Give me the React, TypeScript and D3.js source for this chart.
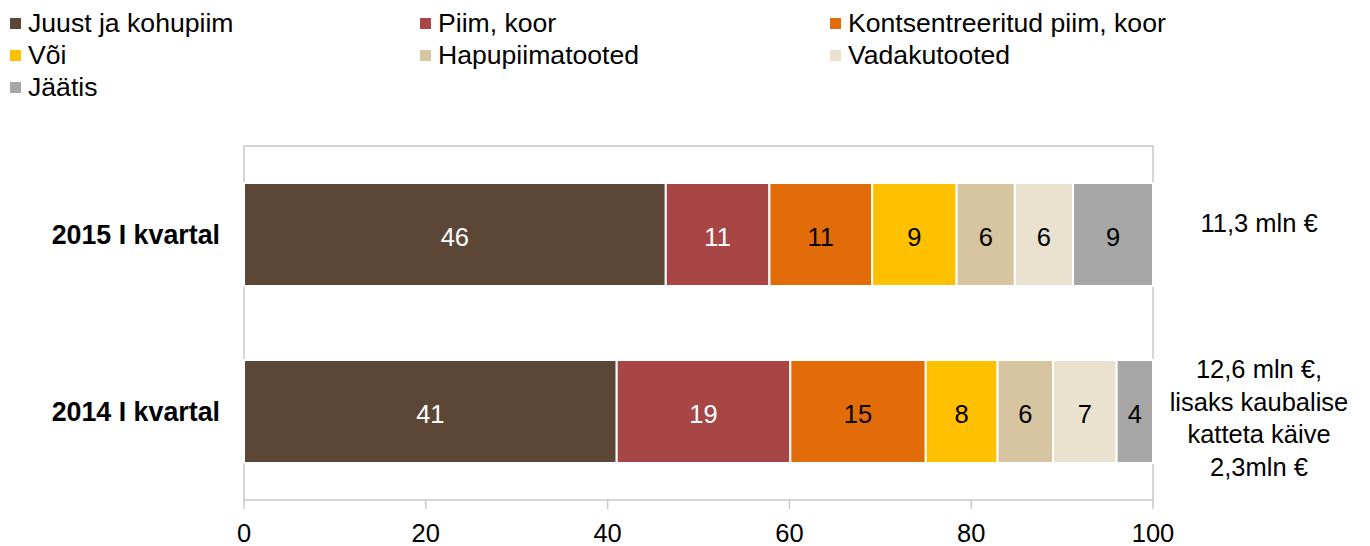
import React from "react";
import * as d3 from "d3";

const categories = ["2015 I kvartal", "2014 I kvartal"];
const seriesNames = [
  "Juust ja kohupiim",
  "Piim, koor",
  "Kontsentreeritud piim, koor",
  "Või",
  "Hapupiimatooted",
  "Vadakutooted",
  "Jäätis",
];
const seriesColors = ["#5C4736", "#A84646", "#E36C0A", "#FFC000", "#D7C4A1", "#EAE1CF", "#A6A6A6"];
const labelColors = ["#FFFFFF", "#FFFFFF", "#000000", "#000000", "#000000", "#000000", "#000000"];
const values2015 = [46.4, 11.4, 11.3, 9.3, 6.4, 6.4, 8.8];
const values2014 = [41.0, 19.1, 14.9, 7.9, 6.1, 7.0, 4.0];
const annotation2015 = ["11,3 mln €"];
const annotation2014 = ["12,6 mln €,", "lisaks kaubalise", "katteta käive", "2,3mln €"];
const xTicks = [0, 20, 40, 60, 80, 100];

const FONT = "'Liberation Sans', Arial, Helvetica, sans-serif";

export default function App() {
  const W = 1370;
  const H = 546;
  const x = d3.scaleLinear().domain([0, 100]).range([244, 1153]);
  const y = d3
    .scaleBand<string>()
    .domain(categories)
    .range([146, 500])
    .paddingInner(0.418)
    .paddingOuter(0.209);

  const rows = [
    { cat: categories[0], vals: values2015, ann: annotation2015 },
    { cat: categories[1], vals: values2014, ann: annotation2014 },
  ];

  const stacked = rows.map((r) => {
    const cum = d3.cumsum(r.vals);
    return r.vals.map((v, i) => ({ x0: cum[i] - v, x1: cum[i], v, i }));
  });

  const legendCols = [10, 420, 830];
  const legendRows = [32, 64, 96];

  return (
    <svg
      width={W}
      height={H}
      style={{ position: "absolute", left: 0, top: 0, background: "#fff" }}
      fontFamily={FONT}
    >
      {/* Legend */}
      {seriesNames.map((name, i) => {
        const col = i % 3;
        const row = Math.floor(i / 3);
        const lx = legendCols[col];
        const ly = legendRows[row];
        return (
          <g key={name}>
            <rect x={lx} y={ly - 14} width={11} height={11} fill={seriesColors[i]} />
            <text x={lx + 18} y={ly} fontSize={26.6} fill="#000">
              {name}
            </text>
          </g>
        );
      })}

      {/* Plot border */}
      <rect
        x={x(0)}
        y={146}
        width={x(100) - x(0)}
        height={500 - 146}
        fill="none"
        stroke="#C8C8C8"
        strokeWidth={1.5}
      />

      {/* Bars */}
      {rows.map((r, ri) => {
        const by = y(r.cat)!;
        const bh = y.bandwidth();
        return (
          <g key={r.cat}>
            {stacked[ri].map((s) => (
              <rect
                key={s.i}
                x={x(s.x0)}
                y={by}
                width={x(s.x1) - x(s.x0)}
                height={bh}
                fill={seriesColors[s.i]}
                stroke="#FFFFFF"
                strokeWidth={2}
              />
            ))}
            {stacked[ri].map((s) => (
              <text
                key={"l" + s.i}
                x={(x(s.x0) + x(s.x1)) / 2}
                y={by + bh / 2 + 11}
                textAnchor="middle"
                fontSize={25.5}
                fill={labelColors[s.i]}
              >
                {Math.round(s.v)}
              </text>
            ))}
            <text
              x={220}
              y={by + bh / 2 + 9}
              textAnchor="end"
              fontSize={26.8}
              fontWeight="bold"
              fill="#000"
            >
              {r.cat}
            </text>
          </g>
        );
      })}

      {/* Right annotations */}
      <text x={1259} y={232} textAnchor="middle" fontSize={25.5} fill="#000">
        {annotation2015.map((t, i) => (
          <tspan key={i} x={1259} dy={i === 0 ? 0 : 32.5}>
            {t}
          </tspan>
        ))}
      </text>
      <text x={1259} y={378} textAnchor="middle" fontSize={25.5} fill="#000">
        {annotation2014.map((t, i) => (
          <tspan key={i} x={1259} dy={i === 0 ? 0 : 32.5}>
            {t}
          </tspan>
        ))}
      </text>

      {/* X axis ticks */}
      {xTicks.map((t) => (
        <g key={t}>
          <line x1={x(t)} x2={x(t)} y1={500} y2={509} stroke="#C8C8C8" strokeWidth={1.5} />
          <text x={x(t)} y={542} textAnchor="middle" fontSize={25.5} fill="#000">
            {t}
          </text>
        </g>
      ))}
    </svg>
  );
}
